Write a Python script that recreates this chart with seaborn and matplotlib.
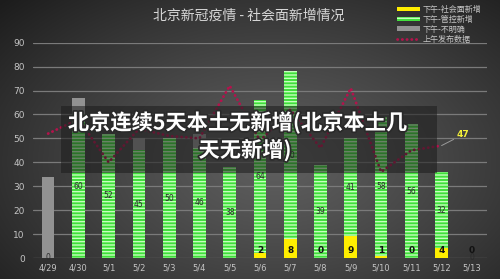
import numpy as np
import pandas as pd
import matplotlib
matplotlib.use("Agg")
import matplotlib.pyplot as plt
import seaborn as sns
from matplotlib.patches import Patch, Rectangle
from matplotlib.lines import Line2D
import matplotlib.patheffects as pe

# ---- data ----
dates = ['4/29', '4/30', '5/1', '5/2', '5/3', '5/4', '5/5', '5/6',
         '5/7', '5/8', '5/9', '5/10', '5/11', '5/12', '5/13']
social = [None, None, None, None, None, None, None, 2, 8, 0, 9, 1, 0, 4, 0]
managed = [0, 60, 52, 45, 50, 46, 38, 64, 70, 39, 41, 58, 56, 32, 0]
unclear = [34, 7, 0, 5, 0, 6, 0, 0, 0, 0, 0, 0, 0, 0, 0]
morning = [52, 58, 40, 54, 51, 50, 72, 49, 62, 46, 71, 36, 45, 47]
y_ticks = [0, 10, 20, 30, 40, 50, 60, 70, 80, 90]

title = '北京新冠疫情 - 社会面新增情况'
overlay_1 = '北京连续5天本土无新增(北京本土几'
overlay_2 = '天无新增)'
legend_labels = ['下午-社会面新增', '下午-管控新增', '下午-不明确', '上午发布数据']

sns.set_theme(style="dark")
plt.rcParams['font.family'] = ['Noto Sans CJK SC', 'DejaVu Sans']
plt.rcParams['hatch.linewidth'] = 1.0

soc = np.array([0 if v is None else v for v in social], dtype=float)
man = np.array(managed, dtype=float)
unc = np.array(unclear, dtype=float)
df = pd.DataFrame({'date': dates,
                   'total': soc + man + unc,
                   'green': soc + man,
                   'yellow': soc})

fig = plt.figure(figsize=(5.0, 2.79), dpi=100)

# background radial gradient
bg = fig.add_axes([0, 0, 1, 1], zorder=-5)
gx, gy = np.meshgrid(np.linspace(0, 1, 400), np.linspace(0, 1, 240))
r = np.sqrt(((gx - 0.55) / 0.75) ** 2 + ((gy - 0.42) / 0.85) ** 2)
v = 0.37 - (0.37 - 0.11) * np.clip(r, 0, 1) ** 1.2
bg.imshow(np.dstack([v, v, v]), aspect='auto', extent=[0, 1, 0, 1], origin='lower')
bg.axis('off')

ax = fig.add_axes([33 / 500, 21 / 279, 454 / 500, (258 - 42.7) / 279])
ax.set_facecolor('none')

bw = 0.42
sns.barplot(data=df, x='date', y='total', color='#929292', width=bw,
            saturation=1, ax=ax, linewidth=0, zorder=2)
sns.barplot(data=df, x='date', y='green', color='#3fe03a', width=bw,
            saturation=1, ax=ax, linewidth=0, edgecolor='#c6ffbe',
            hatch='-----', zorder=3)
sns.barplot(data=df, x='date', y='yellow', color='#ffee00', width=bw,
            saturation=1, ax=ax, linewidth=0, zorder=4)

idx = np.arange(len(morning))
sns.lineplot(x=idx, y=morning, ax=ax, color='#b5124c', linewidth=2.0,
             linestyle=(0, (0.1, 1.6)), dash_capstyle='round', zorder=5)

# labels
for i in range(len(dates)):
    ax.text(i, soc[i] + man[i] / 2, str(managed[i]), ha='center', va='center',
            fontsize=5.5, color='#2a2a2a', zorder=6, family='DejaVu Sans')
    if social[i] is not None:
        ax.text(i, 3.3, str(social[i]), ha='center', va='center',
                fontsize=6.5, color='#111111', fontweight='bold', zorder=6,
                family='DejaVu Sans')

ax.annotate(str(morning[-1]), xy=(len(morning) - 1, morning[-1]),
            xytext=(11, 8), textcoords='offset points', fontsize=6.5,
            fontweight='bold', color='#f4f03a', va='center', ha='left',
            family='DejaVu Sans',
            arrowprops=dict(arrowstyle='-', color='#9a9a9a', lw=0.7,
                            shrinkA=0, shrinkB=0))

ax.set_xlim(-0.5, len(dates) - 0.5)
ax.set_ylim(0, 90)
ax.set_yticks(y_ticks)
ax.set_yticklabels([str(t) for t in y_ticks])
ax.set_xlabel('')
ax.set_ylabel('')
ax.grid(axis='y', color='#7a7a7a', linewidth=0.9, zorder=0)
ax.grid(axis='x', visible=False)
ax.set_axisbelow(True)
for s in ax.spines.values():
    s.set_visible(False)
ax.tick_params(axis='y', colors='#c4c4c4', labelsize=6.5, length=0, pad=6)
ax.tick_params(axis='x', colors='#c4c4c4', labelsize=6, length=0, pad=4)
for lab in ax.get_xticklabels() + ax.get_yticklabels():
    lab.set_family('DejaVu Sans')

fig.text(0.498, 0.944, title, ha='center', va='center', fontsize=10,
         color='#d6d6d6')

handles = [Patch(facecolor='#ffee00', edgecolor='none'),
           Patch(facecolor='#3fe03a', edgecolor='#c6ffbe', hatch='-----', linewidth=0),
           Patch(facecolor='#929292', edgecolor='none'),
           Line2D([0], [0], color='#b5124c', linewidth=2.0, linestyle=(0, (0.1, 1.6)),
                  dash_capstyle='round')]
leg = fig.legend(handles, legend_labels, loc='upper left',
                 bbox_to_anchor=(392 / 500, 1.0), frameon=False, fontsize=5.8,
                 handlelength=2.9, handleheight=0.55, labelspacing=0.12,
                 handletextpad=0.3, borderaxespad=0.2)
for t in leg.get_texts():
    t.set_color('#c8c8c8')

# overlay caption box
fig.patches.append(Rectangle((61 / 500, (279 - 173) / 279), (437 - 61) / 500,
                             (173 - 106) / 279, transform=fig.transFigure,
                             facecolor='#1c1c1c', alpha=0.55, edgecolor='none',
                             zorder=20))
effects = [pe.withStroke(linewidth=2.5, foreground='#2a2a2a')]
fig.text(237.5 / 500, (279 - 122.5) / 279, overlay_1, ha='center', va='center',
         fontsize=15.3, fontweight='bold', color='white', zorder=21,
         path_effects=effects)
fig.text(245 / 500, (279 - 150) / 279, overlay_2, ha='center', va='center',
         fontsize=15.3, fontweight='bold', color='white', zorder=21,
         path_effects=effects)

fig.savefig('out.png', dpi=100)
